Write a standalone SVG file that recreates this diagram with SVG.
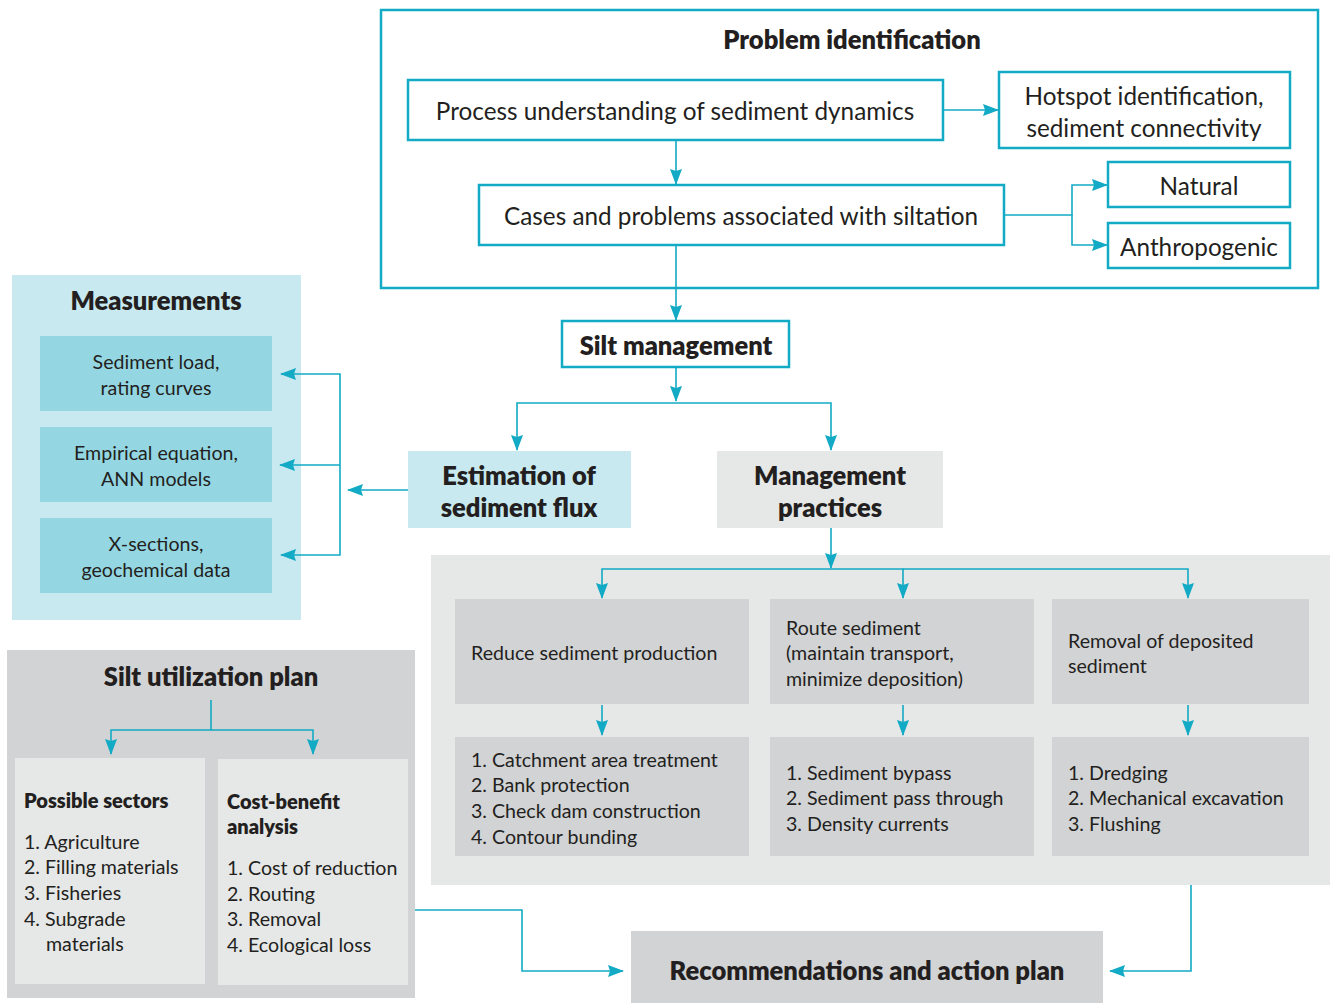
<svg xmlns="http://www.w3.org/2000/svg" width="1336" height="1003" viewBox="0 0 1336 1003">
  <defs>
    <marker id="arr" markerUnits="userSpaceOnUse" markerWidth="16" markerHeight="14" refX="15" refY="7" orient="auto">
      <path d="M0,1 L16,7 L0,13 L2,7 Z" fill="#12aac4"/>
    </marker>
    <style>
      text { font-family: Lato, "Open Sans", "Noto Sans", sans-serif; fill: #231f20; }
      .outline { fill: #ffffff; stroke: #12aac4; stroke-width: 2.5; }
      .wire { fill: none; stroke: #12aac4; stroke-width: 1.6; }
      .lb { font-size: 24.3px; }
      .title { font-size: 25.5px; font-weight: 800; }
      .big { font-size: 25.5px; font-weight: 800; }
      .mid { font-size: 19.6px; }
      .sub { font-size: 20px; font-weight: 800; }
      .item { font-size: 19.6px; }
      .c { text-anchor: middle; }
      .blue { fill: #c8e9f0; }
      .teal { fill: #94d7e3; }
      .grey { fill: #d2d3d5; }
      .pale { fill: #e6e7e7; }
    </style>
  </defs>

  <!-- Problem identification frame -->
  <g id="problem-identification">
    <rect class="outline" x="381" y="10" width="937" height="278"/>
    <text class="title c" x="852" y="49">Problem identification</text>
  </g>
  <g id="process-understanding">
    <rect class="outline" x="408" y="80" width="535" height="60"/>
    <text class="lb c" x="675" y="120">Process understanding of sediment dynamics</text>
  </g>
  <g id="hotspot">
    <rect class="outline" x="999" y="72" width="291" height="76"/>
    <text class="lb c" x="1144" y="105">Hotspot identification,</text>
    <text class="lb c" x="1144" y="137">sediment connectivity</text>
  </g>
  <g id="cases-problems">
    <rect class="outline" x="479" y="185" width="525" height="60"/>
    <text class="lb c" x="741" y="225">Cases and problems associated with siltation</text>
  </g>
  <g id="natural">
    <rect class="outline" x="1108" y="162" width="182" height="45"/>
    <text class="lb c" x="1199" y="195">Natural</text>
  </g>
  <g id="anthropogenic">
    <rect class="outline" x="1108" y="223" width="182" height="45"/>
    <text class="lb c" x="1199" y="256">Anthropogenic</text>
  </g>

  <!-- Silt management -->
  <g id="silt-management">
    <rect class="outline" x="562" y="321" width="227" height="46"/>
    <text class="big c" x="676" y="355">Silt management</text>
  </g>

  <!-- Estimation / management -->
  <g id="estimation">
    <rect class="blue" x="408" y="451" width="223" height="77"/>
    <text class="big c" x="519" y="485">Estimation of</text>
    <text class="big c" x="519" y="517">sediment flux</text>
  </g>
  <g id="management-practices">
    <rect class="pale" x="717" y="451" width="226" height="77"/>
    <text class="big c" x="830" y="485">Management</text>
    <text class="big c" x="830" y="517">practices</text>
  </g>

  <!-- Measurements panel -->
  <g id="measurements">
    <rect class="blue" x="12" y="275" width="289" height="345"/>
    <text class="title c" x="156" y="310">Measurements</text>
  </g>
  <g id="sediment-load">
    <rect class="teal" x="40" y="336" width="232" height="75"/>
    <text class="mid c" x="156" y="369">Sediment load,</text>
    <text class="mid c" x="156" y="395">rating curves</text>
  </g>
  <g id="empirical-equation">
    <rect class="teal" x="40" y="427" width="232" height="75"/>
    <text class="mid c" x="156" y="460">Empirical equation,</text>
    <text class="mid c" x="156" y="486">ANN models</text>
  </g>
  <g id="x-sections">
    <rect class="teal" x="40" y="518" width="232" height="75"/>
    <text class="mid c" x="156" y="551">X-sections,</text>
    <text class="mid c" x="156" y="577">geochemical data</text>
  </g>

  <!-- Silt utilization plan -->
  <g id="silt-utilization">
    <rect class="grey" x="7" y="650" width="408" height="348"/>
    <text class="title c" x="211" y="686">Silt utilization plan</text>
  </g>
  <g id="possible-sectors">
    <rect class="pale" x="15" y="758" width="190" height="226"/>
    <text class="sub" x="24" y="808">Possible sectors</text>
    <text class="item" x="24" y="849">1.  Agriculture</text>
    <text class="item" x="24" y="874">2.  Filling materials</text>
    <text class="item" x="24" y="900">3.  Fisheries</text>
    <text class="item" x="24" y="926">4.  Subgrade</text>
    <text class="item" x="46" y="951">materials</text>
  </g>
  <g id="cost-benefit">
    <rect class="pale" x="218" y="759" width="190" height="226"/>
    <text class="sub" x="227" y="809">Cost-benefit</text>
    <text class="sub" x="227" y="834">analysis</text>
    <text class="item" x="227" y="875">1.  Cost of reduction</text>
    <text class="item" x="227" y="901">2.  Routing</text>
    <text class="item" x="227" y="926">3.  Removal</text>
    <text class="item" x="227" y="952">4.  Ecological loss</text>
  </g>

  <!-- Management practices panel -->
  <g id="practices-panel">
    <rect class="pale" x="431" y="555" width="899" height="330"/>
  </g>
  <g id="reduce-production">
    <rect class="grey" x="455" y="599" width="294" height="105"/>
    <text class="mid" x="471" y="660">Reduce sediment production</text>
  </g>
  <g id="route-sediment">
    <rect class="grey" x="770" y="599" width="264" height="105"/>
    <text class="mid" x="786" y="635">Route sediment</text>
    <text class="mid" x="786" y="660">(maintain transport,</text>
    <text class="mid" x="786" y="686">minimize deposition)</text>
  </g>
  <g id="removal-deposited">
    <rect class="grey" x="1052" y="599" width="257" height="105"/>
    <text class="mid" x="1068" y="648">Removal of deposited</text>
    <text class="mid" x="1068" y="673">sediment</text>
  </g>
  <g id="reduce-list">
    <rect class="grey" x="455" y="737" width="294" height="119"/>
    <text class="item" x="471" y="767">1.  Catchment area treatment</text>
    <text class="item" x="471" y="792">2.  Bank protection</text>
    <text class="item" x="471" y="818">3.  Check dam construction</text>
    <text class="item" x="471" y="844">4. Contour bunding</text>
  </g>
  <g id="route-list">
    <rect class="grey" x="770" y="737" width="264" height="119"/>
    <text class="item" x="786" y="780">1.  Sediment bypass</text>
    <text class="item" x="786" y="805">2.  Sediment pass through</text>
    <text class="item" x="786" y="831">3.  Density currents</text>
  </g>
  <g id="removal-list">
    <rect class="grey" x="1052" y="737" width="257" height="119"/>
    <text class="item" x="1068" y="780">1.  Dredging</text>
    <text class="item" x="1068" y="805">2.  Mechanical excavation</text>
    <text class="item" x="1068" y="831">3.  Flushing</text>
  </g>

  <!-- Recommendations -->
  <g id="recommendations">
    <rect class="grey" x="631" y="931" width="472" height="72"/>
    <text class="big c" x="867" y="980">Recommendations and action plan</text>
  </g>

  <!-- Connectors -->
  <g id="connectors">
    <path class="wire" d="M943,110 H998" marker-end="url(#arr)"/>
    <path class="wire" d="M676,140 V184" marker-end="url(#arr)"/>
    <path class="wire" d="M1004,215 H1072 V185 H1107" marker-end="url(#arr)"/>
    <path class="wire" d="M1072,215 V245 H1107" marker-end="url(#arr)"/>
    <path class="wire" d="M676,245 V320" marker-end="url(#arr)"/>
    <path class="wire" d="M676,367 V401" marker-end="url(#arr)"/>
    <path class="wire" d="M676,403 H517 V450" marker-end="url(#arr)"/>
    <path class="wire" d="M676,403 H831 V450" marker-end="url(#arr)"/>
    <path class="wire" d="M408,490 H348" marker-end="url(#arr)"/>
    <path class="wire" d="M340,465 V374 H281" marker-end="url(#arr)"/>
    <path class="wire" d="M340,465 H280" marker-end="url(#arr)"/>
    <path class="wire" d="M340,465 V555 H281" marker-end="url(#arr)"/>
    <path class="wire" d="M211,700 V730 H111 V754" marker-end="url(#arr)"/>
    <path class="wire" d="M211,730 H313 V754" marker-end="url(#arr)"/>
    <path class="wire" d="M831,528 V568" marker-end="url(#arr)"/>
    <path class="wire" d="M831,569 H602 V598" marker-end="url(#arr)"/>
    <path class="wire" d="M831,569 H903 V598" marker-end="url(#arr)"/>
    <path class="wire" d="M903,569 H1188 V598" marker-end="url(#arr)"/>
    <path class="wire" d="M602,705 V735" marker-end="url(#arr)"/>
    <path class="wire" d="M903,705 V735" marker-end="url(#arr)"/>
    <path class="wire" d="M1188,705 V735" marker-end="url(#arr)"/>
    <path class="wire" d="M415,910 H522 V971 H623" marker-end="url(#arr)"/>
    <path class="wire" d="M1191,885 V971 H1110" marker-end="url(#arr)"/>
  </g>
</svg>
